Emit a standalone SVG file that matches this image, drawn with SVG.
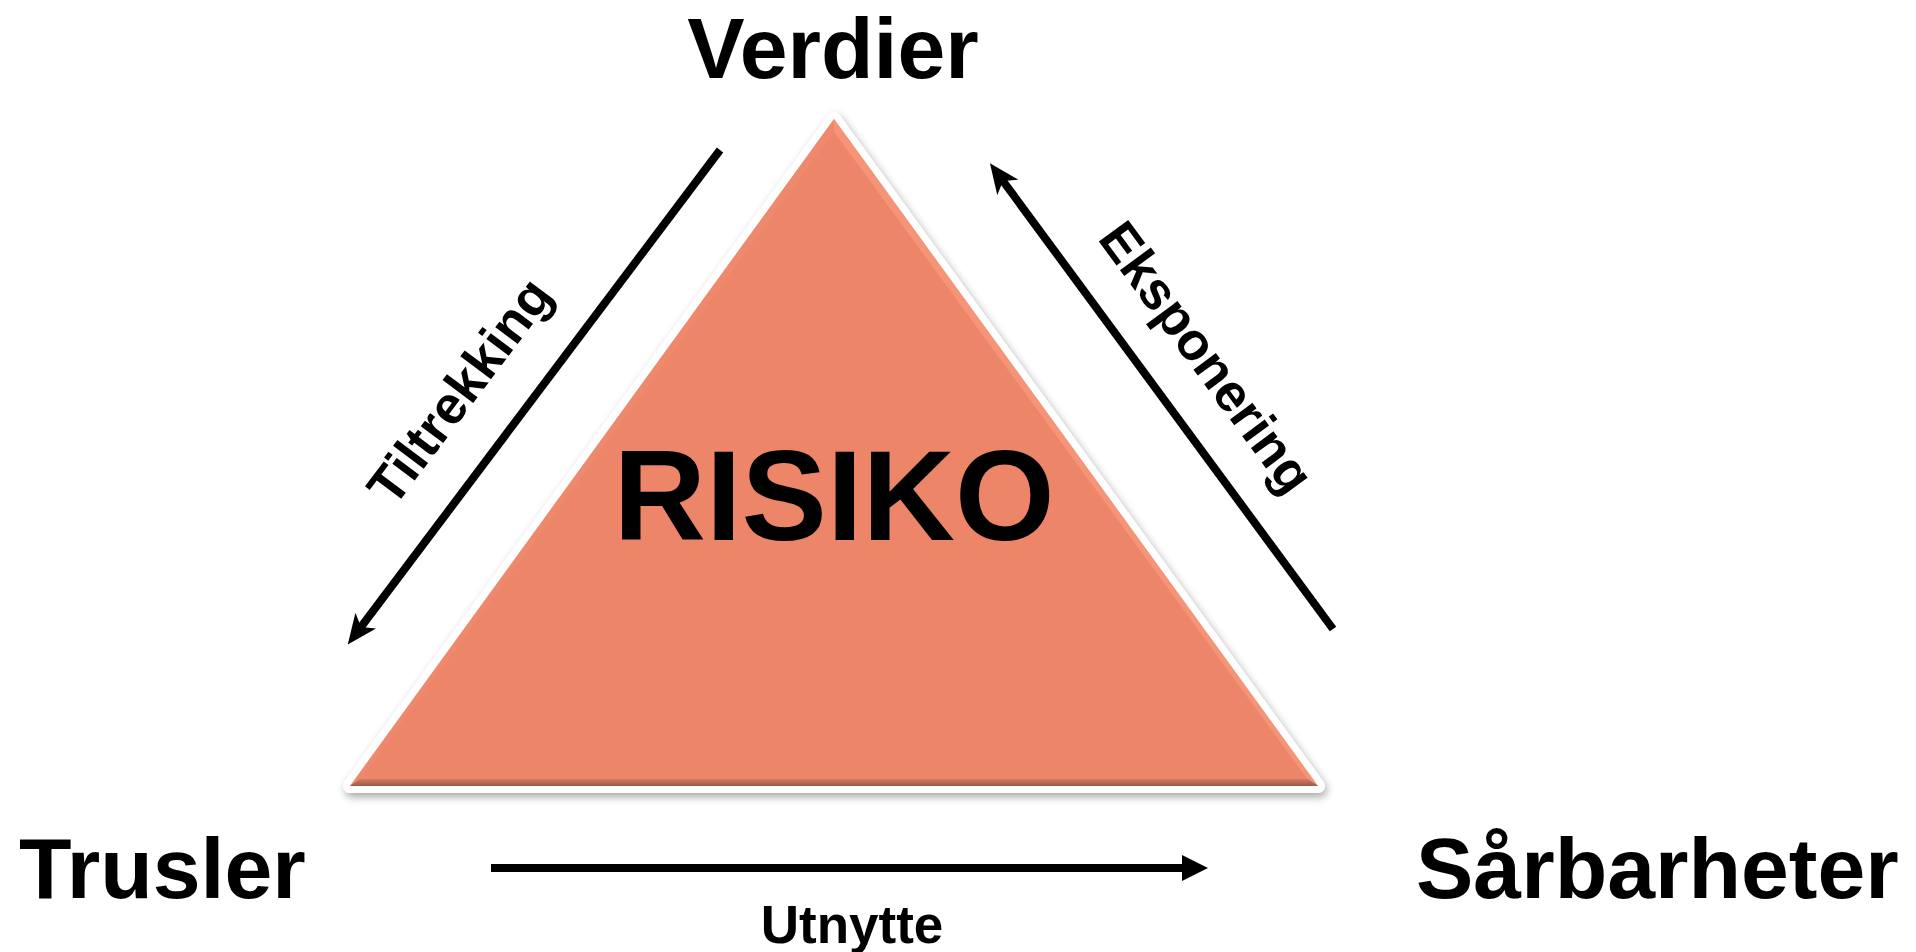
<svg xmlns="http://www.w3.org/2000/svg" width="1916" height="952" viewBox="0 0 1916 952">
<style>
.lbl{font-family:"Liberation Sans",Arial,sans-serif;font-weight:bold;fill:#000}
.big{font-size:86px}
.mid{font-size:53px}
.conn{stroke:#000;stroke-width:8;fill:none}
</style>
<defs>
<filter id="sh" x="-10%" y="-10%" width="120%" height="120%">
<feGaussianBlur in="SourceAlpha" stdDeviation="4"/>
<feOffset dx="2" dy="4" result="b"/>
<feComponentTransfer><feFuncA type="linear" slope="0.35"/></feComponentTransfer>
<feMerge><feMergeNode/><feMergeNode in="SourceGraphic"/></feMerge>
</filter>
<linearGradient id="bot" x1="0" y1="0" x2="0" y2="1">
<stop offset="0" stop-color="#D57A60"/>
<stop offset="1" stop-color="#9A5948"/>
</linearGradient>
<marker id="stealth" markerUnits="userSpaceOnUse" markerWidth="30" markerHeight="26" viewBox="0 0 30 26" refX="8" refY="13" orient="auto">
<path d="M0,0 L30,13 L0,26 L8,13 z" fill="#000"/>
</marker>
<marker id="tri" markerUnits="userSpaceOnUse" markerWidth="26" markerHeight="26" viewBox="0 0 26 26" refX="2" refY="13" orient="auto">
<path d="M0,0 L26,13 L0,26 z" fill="#000"/>
</marker>
</defs>
<rect width="1916" height="952" fill="#fff"/>

<g id="risiko">
<polygon points="834,119 350,786 1318,786" fill="#fff" stroke="#fff" stroke-width="14" stroke-linejoin="round" filter="url(#sh)"/>
<polygon points="834,119 350,786 1318,786" fill="#ED8569"/>
<polygon points="834,119 1318,786 1308,780 834,132" fill="#F6977A" opacity="0.8"/>
<polygon points="834,119 350,786 360,780 834,132" fill="#EF8C70" opacity="0.6"/>
<polygon points="350,786 1318,786 1308,779 360,779" fill="url(#bot)"/>
<text class="lbl" x="834" y="540" font-size="128" text-anchor="middle">RISIKO</text>
</g>

<g id="verdier"><text class="lbl big" x="833" y="78" text-anchor="middle">Verdier</text></g>
<g id="trusler"><text class="lbl big" x="19" y="898">Trusler</text></g>
<g id="sarbarheter"><text class="lbl big" x="1416" y="898">Sårbarheter</text></g>

<g id="connectors">
<line class="conn" x1="720" y1="150" x2="361" y2="627" marker-end="url(#stealth)"/>
<line class="conn" x1="1333" y1="629" x2="1003" y2="181" marker-end="url(#stealth)"/>
<line class="conn" x1="491" y1="868" x2="1184" y2="868" marker-end="url(#tri)"/>
</g>

<g id="labels">
<text class="lbl mid" transform="translate(474,402) rotate(-53)" text-anchor="middle">Tiltrekking</text>
<text class="lbl mid" transform="translate(1192,368) rotate(53.6)" text-anchor="middle">Eksponering</text>
<text class="lbl mid" x="852" y="943" text-anchor="middle">Utnytte</text>
</g>
</svg>
